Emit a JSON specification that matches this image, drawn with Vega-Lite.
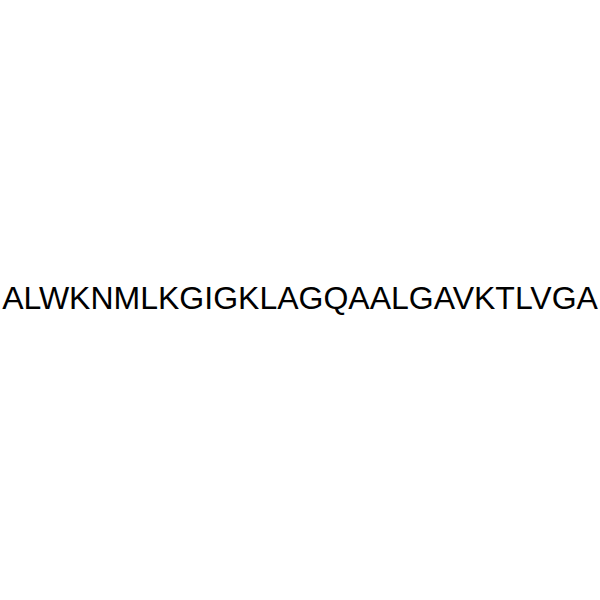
{
  "$schema": "https://vega.github.io/schema/vega-lite/v6.json",
  "width": 600,
  "height": 600,
  "padding": 0,
  "autosize": {"type": "fit", "contains": "padding"},
  "background": "white",
  "config": {"view": {"stroke": null}},
  "data": {"values": [{"label": "ALWKNMLKGIGKLAGQAALGAVKTLVGA"}]},
  "mark": {
    "type": "text",
    "font": "Liberation Sans",
    "fontSize": 32,
    "align": "center",
    "baseline": "middle",
    "dy": -1,
    "color": "black"
  },
  "encoding": {
    "text": {"field": "label", "type": "nominal"}
  }
}
